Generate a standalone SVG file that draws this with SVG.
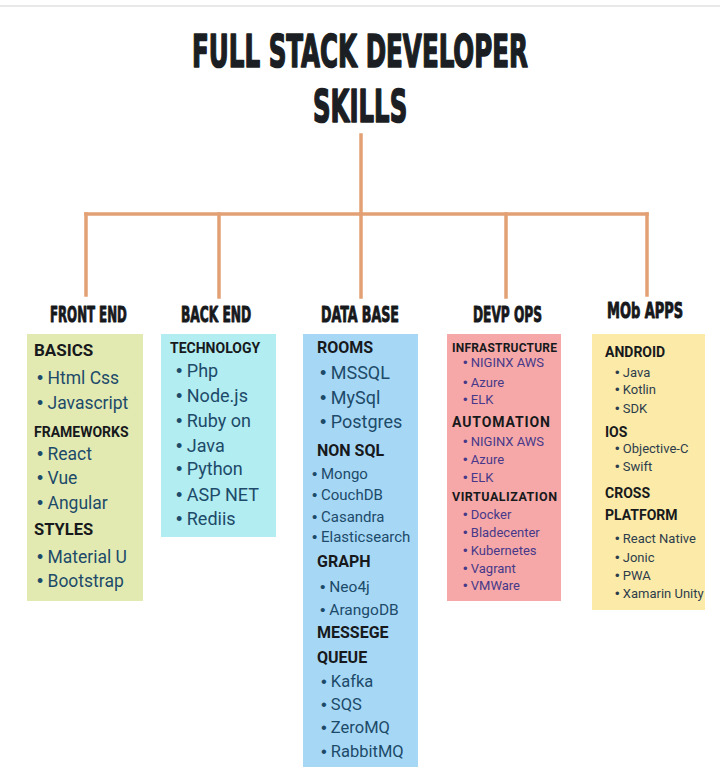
<svg xmlns="http://www.w3.org/2000/svg" width="720" height="776" viewBox="0 0 720 776">
<style>
.title{font-family:"DejaVu Sans Condensed","Liberation Sans",sans-serif;font-weight:bold;fill:#1b1e22;stroke:#1b1e22;stroke-width:1.6;stroke-linejoin:round}
.col{font-family:"DejaVu Sans Condensed","Liberation Sans",sans-serif;font-weight:bold;fill:#16181b;stroke:#16181b;stroke-width:0.9;stroke-linejoin:round;font-size:22px}
.cat{font-family:Roboto,"Liberation Sans",sans-serif;font-weight:bold;fill:#17191c}
.it{font-family:Roboto,"Liberation Sans",sans-serif}
.b{font-family:"Liberation Sans",sans-serif}
.fe{fill:#1d4a69}
.dv{fill:#47398a}
.mb{fill:#2e3d4c}
.conn{stroke:#e2a074;stroke-width:3.5;fill:none;stroke-linecap:square}
</style>
<rect width="720" height="776" fill="#ffffff"/>
<line x1="0" y1="6" x2="720" y2="6" stroke="#e2e2e2" stroke-width="1.5"/>

<g id="title">
<text class="title" transform="translate(192 67) scale(0.6 1)" x="0" y="0" font-size="45" textLength="560" lengthAdjust="spacingAndGlyphs">FULL STACK DEVELOPER</text>
<text class="title" transform="translate(313 122) scale(0.6 1)" x="0" y="0" font-size="45" textLength="157" lengthAdjust="spacingAndGlyphs">SKILLS</text>
</g>

<g id="connectors">
<line class="conn" x1="361" y1="135" x2="361" y2="214"/>
<line class="conn" x1="86" y1="214" x2="647" y2="214"/>
<line class="conn" x1="86" y1="214" x2="86" y2="295"/>
<line class="conn" x1="219" y1="214" x2="219" y2="297"/>
<line class="conn" x1="361" y1="214" x2="361" y2="297"/>
<line class="conn" x1="506" y1="214" x2="506" y2="297"/>
<line class="conn" x1="647" y1="214" x2="647" y2="295"/>
</g>

<g id="front-end">
<text class="col" transform="translate(50 322) scale(0.6 1)" x="0" y="0" textLength="128" lengthAdjust="spacingAndGlyphs">FRONT END</text>
<rect x="27" y="334" width="116" height="267" fill="#e2eab2"/>
<text class="cat" x="34" y="356" font-size="17">BASICS</text>
<g class="it fe" font-size="17.5">
<text x="37" y="384"><tspan class="b">•</tspan> Html Css</text>
<text x="37" y="409"><tspan class="b">•</tspan> Javascript</text>
<text x="37" y="460"><tspan class="b">•</tspan> React</text>
<text x="37" y="484"><tspan class="b">•</tspan> Vue</text>
<text x="37" y="509"><tspan class="b">•</tspan> Angular</text>
<text x="37" y="563"><tspan class="b">•</tspan> Material U</text>
<text x="37" y="587"><tspan class="b">•</tspan> Bootstrap</text>
</g>
<text class="cat" x="34" y="437" font-size="14">FRAMEWORKS</text>
<text class="cat" x="34" y="535" font-size="16.5">STYLES</text>
</g>

<g id="back-end">
<text class="col" transform="translate(181 322) scale(0.6 1)" x="0" y="0" textLength="117" lengthAdjust="spacingAndGlyphs">BACK END</text>
<rect x="161" y="334" width="115" height="203" fill="#b2edf1"/>
<text class="cat" x="170" y="353" font-size="14">TECHNOLOGY</text>
<g class="it fe" font-size="18">
<text x="176" y="377"><tspan class="b">•</tspan> Php</text>
<text x="176" y="402"><tspan class="b">•</tspan> Node.js</text>
<text x="176" y="427"><tspan class="b">•</tspan> Ruby on</text>
<text x="176" y="452"><tspan class="b">•</tspan> Java</text>
<text x="176" y="475"><tspan class="b">•</tspan> Python</text>
<text x="176" y="501"><tspan class="b">•</tspan> ASP NET</text>
<text x="176" y="525"><tspan class="b">•</tspan> Rediis</text>
</g>
</g>

<g id="data-base">
<text class="col" transform="translate(321 322) scale(0.6 1)" x="0" y="0" textLength="130" lengthAdjust="spacingAndGlyphs">DATA BASE</text>
<rect x="303" y="334" width="115" height="433" fill="#a6d8f6"/>
<g class="cat" font-size="16">
<text x="317" y="353">ROOMS</text>
<text x="317" y="456">NON SQL</text>
<text x="317" y="567">GRAPH</text>
<text x="317" y="638">MESSEGE</text>
<text x="317" y="663">QUEUE</text>
</g>
<g class="it fe">
<text x="320" y="379" font-size="18"><tspan class="b">•</tspan> MSSQL</text>
<text x="320" y="404" font-size="18"><tspan class="b">•</tspan> MySql</text>
<text x="320" y="428" font-size="18"><tspan class="b">•</tspan> Postgres</text>
<text x="312" y="479" font-size="15"><tspan class="b">•</tspan> Mongo</text>
<text x="312" y="500" font-size="15"><tspan class="b">•</tspan> CouchDB</text>
<text x="312" y="522" font-size="15"><tspan class="b">•</tspan> Casandra</text>
<text x="312" y="542" font-size="15"><tspan class="b">•</tspan> Elasticsearch</text>
<text x="320" y="592" font-size="15.5"><tspan class="b">•</tspan> Neo4j</text>
<text x="320" y="615" font-size="15.5"><tspan class="b">•</tspan> ArangoDB</text>
<text x="321" y="687" font-size="16.5"><tspan class="b">•</tspan> Kafka</text>
<text x="321" y="710" font-size="16.5"><tspan class="b">•</tspan> SQS</text>
<text x="321" y="733" font-size="16.5"><tspan class="b">•</tspan> ZeroMQ</text>
<text x="321" y="757" font-size="16.5"><tspan class="b">•</tspan> RabbitMQ</text>
</g>
</g>

<g id="devp-ops">
<text class="col" transform="translate(473 322) scale(0.6 1)" x="0" y="0" textLength="115" lengthAdjust="spacingAndGlyphs">DEVP OPS</text>
<rect x="447" y="334" width="114" height="267" fill="#f5a8a7"/>
<text class="cat" x="452" y="352" font-size="12" textLength="105">INFRASTRUCTURE</text>
<text class="cat" x="452" y="427" font-size="14" textLength="98">AUTOMATION</text>
<text class="cat" x="452" y="501" font-size="12.5" textLength="105">VIRTUALIZATION</text>
<g class="it dv" font-size="13">
<text x="463" y="367"><tspan class="b">•</tspan> NIGINX AWS</text>
<text x="463" y="387"><tspan class="b">•</tspan> Azure</text>
<text x="463" y="404"><tspan class="b">•</tspan> ELK</text>
<text x="463" y="446"><tspan class="b">•</tspan> NIGINX AWS</text>
<text x="463" y="464"><tspan class="b">•</tspan> Azure</text>
<text x="463" y="482"><tspan class="b">•</tspan> ELK</text>
<text x="463" y="519"><tspan class="b">•</tspan> Docker</text>
<text x="463" y="537"><tspan class="b">•</tspan> Bladecenter</text>
<text x="463" y="555"><tspan class="b">•</tspan> Kubernetes</text>
<text x="463" y="573"><tspan class="b">•</tspan> Vagrant</text>
<text x="463" y="590"><tspan class="b">•</tspan> VMWare</text>
</g>
</g>

<g id="mob-apps">
<text class="col" transform="translate(607 318) scale(0.6 1)" x="0" y="0" textLength="127" lengthAdjust="spacingAndGlyphs">MOb APPS</text>
<rect x="592" y="334" width="113" height="276" fill="#fbeaa8"/>
<g class="cat" font-size="14">
<text x="605" y="357">ANDROID</text>
<text x="605" y="437">IOS</text>
<text x="605" y="498">CROSS</text>
<text x="605" y="520">PLATFORM</text>
</g>
<g class="it mb" font-size="13">
<text x="615" y="377"><tspan class="b">•</tspan> Java</text>
<text x="615" y="394"><tspan class="b">•</tspan> Kotlin</text>
<text x="615" y="413"><tspan class="b">•</tspan> SDK</text>
<text x="615" y="453"><tspan class="b">•</tspan> Objective-C</text>
<text x="615" y="471"><tspan class="b">•</tspan> Swift</text>
<text x="615" y="543"><tspan class="b">•</tspan> React Native</text>
<text x="615" y="562"><tspan class="b">•</tspan> Jonic</text>
<text x="615" y="580"><tspan class="b">•</tspan> PWA</text>
<text x="615" y="598"><tspan class="b">•</tspan> Xamarin Unity</text>
</g>
</g>
</svg>
